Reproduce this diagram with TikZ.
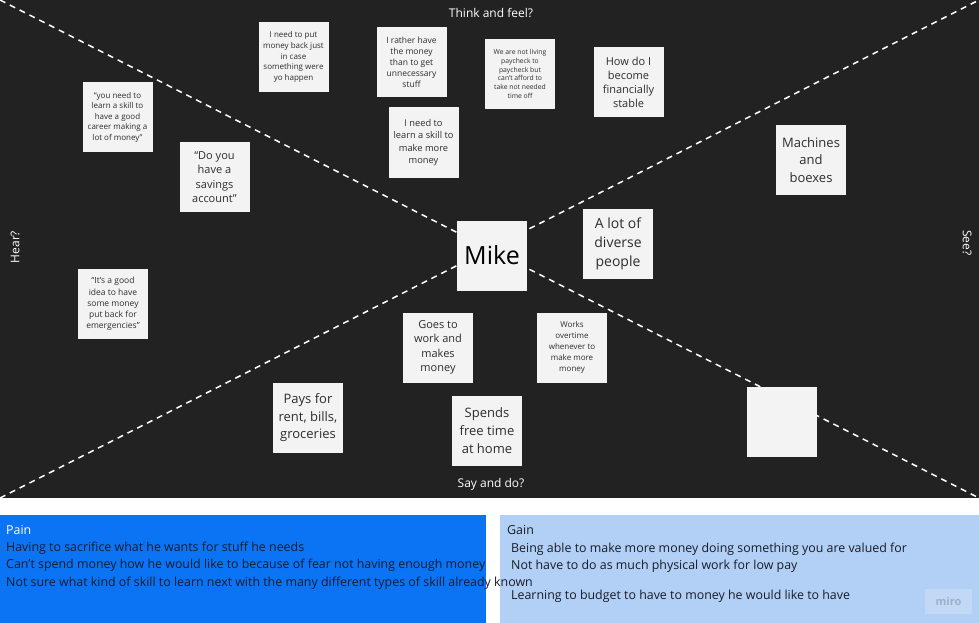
\documentclass[tikz,border=0pt]{standalone}
\usepackage{fontspec}
\setmainfont{Open Sans}
\usetikzlibrary{positioning}
\definecolor{BoardDark}{RGB}{34,34,34}
\definecolor{NotePaper}{RGB}{243,243,244}
\definecolor{NoteInk}{RGB}{45,45,45}
\definecolor{PainBlue}{RGB}{10,116,245}
\definecolor{GainBlue}{RGB}{178,208,245}
\definecolor{ListInk}{RGB}{25,28,40}
\tikzset{
  sticky/.style={fill=NotePaper,text=NoteInk,minimum width=70pt,
    minimum height=70pt,inner sep=0pt,align=center},
  notefont/.style 2 args={font=\fontsize{#1}{#2}\selectfont},
  sectionlabel/.style={text=white,inner sep=0pt,font=\fontsize{12}{14}\selectfont},
  listtext/.style={text=ListInk,inner sep=0pt,anchor=base west,
    font=\fontsize{12.4}{14}\selectfont},
  diagonal/.style={white,line width=1.5pt,dash pattern=on 6pt off 5pt}
}
\begin{document}
\begin{tikzpicture}[x=1pt,y=-1pt]
      \useasboundingbox (0,0) rectangle (979,623);
      \fill[white] (0,0) rectangle (979,623);
      \fill[BoardDark] (0,0) rectangle (979,498);
      \coordinate (tl) at (0,0);
      \coordinate (tr) at (979,0);
      \coordinate (bl) at (0,498);
      \coordinate (br) at (979,498);
      \draw[diagonal] (tl) -- (br);
      \draw[diagonal] (bl) -- (tr);
      \node[sectionlabel] (thinklbl) at (491,13) {Think and feel?};
      \node[sectionlabel] (saylbl) at (491,484) {Say and do?};
      \node[sectionlabel,rotate=90] (hearlbl) at (15,247) {Hear?};
      \node[sectionlabel,rotate=-90] (seelbl) at (967,243) {See?};
      \node[sticky,notefont={8}{10.5}] (skillquote) at (117.5,117) {``you need to\\learn a skill to\\have a good\\career making a\\lot of money''};
      \node[sticky,notefont={11}{14.4}] (savings) at (214.5,177) {``Do you\\have a\\savings\\account''};
      \node[sticky,notefont={8}{10.6}] (moneyback) at (293.5,57) {I need to put\\money back just\\in case\\something were\\yo happen};
      \node[sticky,notefont={8.5}{11}] (ratherhave) at (411.5,62) {I rather have\\the money\\than to get\\unnecessary\\stuff};
      \node[sticky,notefont={6.8}{8.7}] (paycheck) at (520,74) {We are not living\\paycheck to\\paycheck but\\can't afford to\\take not needed\\time off};
      \node[sticky,notefont={11}{14}] (stable) at (628.5,82) {How do I\\become\\financially\\stable};
      \node[sticky,notefont={9.3}{12.3}] (learnskill) at (423.5,142.5) {I need to\\learn a skill to\\make more\\money};
      \node[sticky,notefont={13}{17.5}] (machines) at (811,160) {Machines\\and\\boexes};
      \node[sticky,notefont={14}{19.2}] (diverse) at (618,244) {A lot of\\diverse\\people};
      \node[sticky,notefont={25}{30},text=black] (mike) at (492,255.5) {Mike};
      \node[sticky,notefont={8.5}{11.2}] (emergency) at (113,304) {``It's a good\\idea to have\\some money\\put back for\\emergencies''};
      \node[sticky,notefont={11}{14.4}] (goeswork) at (438,347.5) {Goes to\\work and\\makes\\money};
      \node[sticky,notefont={8}{11.2}] (overtime) at (572,347.5) {Works\\overtime\\whenever to\\make more\\money};
      \node[sticky,notefont={13}{17.5}] (pays) at (308,418) {Pays for\\rent, bills,\\groceries};
      \node[sticky,notefont={13}{18}] (spends) at (487,431) {Spends\\free time\\at home};
      \node[sticky] (blank) at (781.5,422) {};
      \node[fill=PainBlue,minimum width=485.5pt,minimum height=109pt,inner sep=0pt,anchor=north west] (painbox) at (0,514.5) {};
      \node[fill=GainBlue,minimum width=479pt,minimum height=109pt,inner sep=0pt,anchor=north west] (gainbox) at (500,514.5) {};
      \node[listtext,text=white] (paintitle) at (6,534) {Pain};
      \node[listtext] (painone) at (6,551) {Having to sacrifice what he wants for stuff he needs};
      \node[listtext] (paintwo) at (6,568.5) {Can't spend money how he would like to because of fear not having enough money};
      \node[listtext] (painthree) at (6,586) {Not sure what kind of skill to learn next with the many different types of skill already known};
      \node[listtext] (gaintitle) at (507,534) {Gain};
      \node[listtext] (gainone) at (511,552) {Being able to make more money doing something you are valued for};
      \node[listtext] (gaintwo) at (511,569) {Not have to do as much physical work for low pay};
      \node[listtext] (gainthree) at (511,599) {Learning to budget to have to money he would like to have};
      \node[fill=GainBlue!80!white,text=GainBlue!60!gray,minimum width=47pt,minimum height=25pt,inner sep=0pt,
        font=\bfseries\fontsize{11}{13}\selectfont] (miro) at (948.5,601.5) {miro};
    \end{tikzpicture}
\end{document}
